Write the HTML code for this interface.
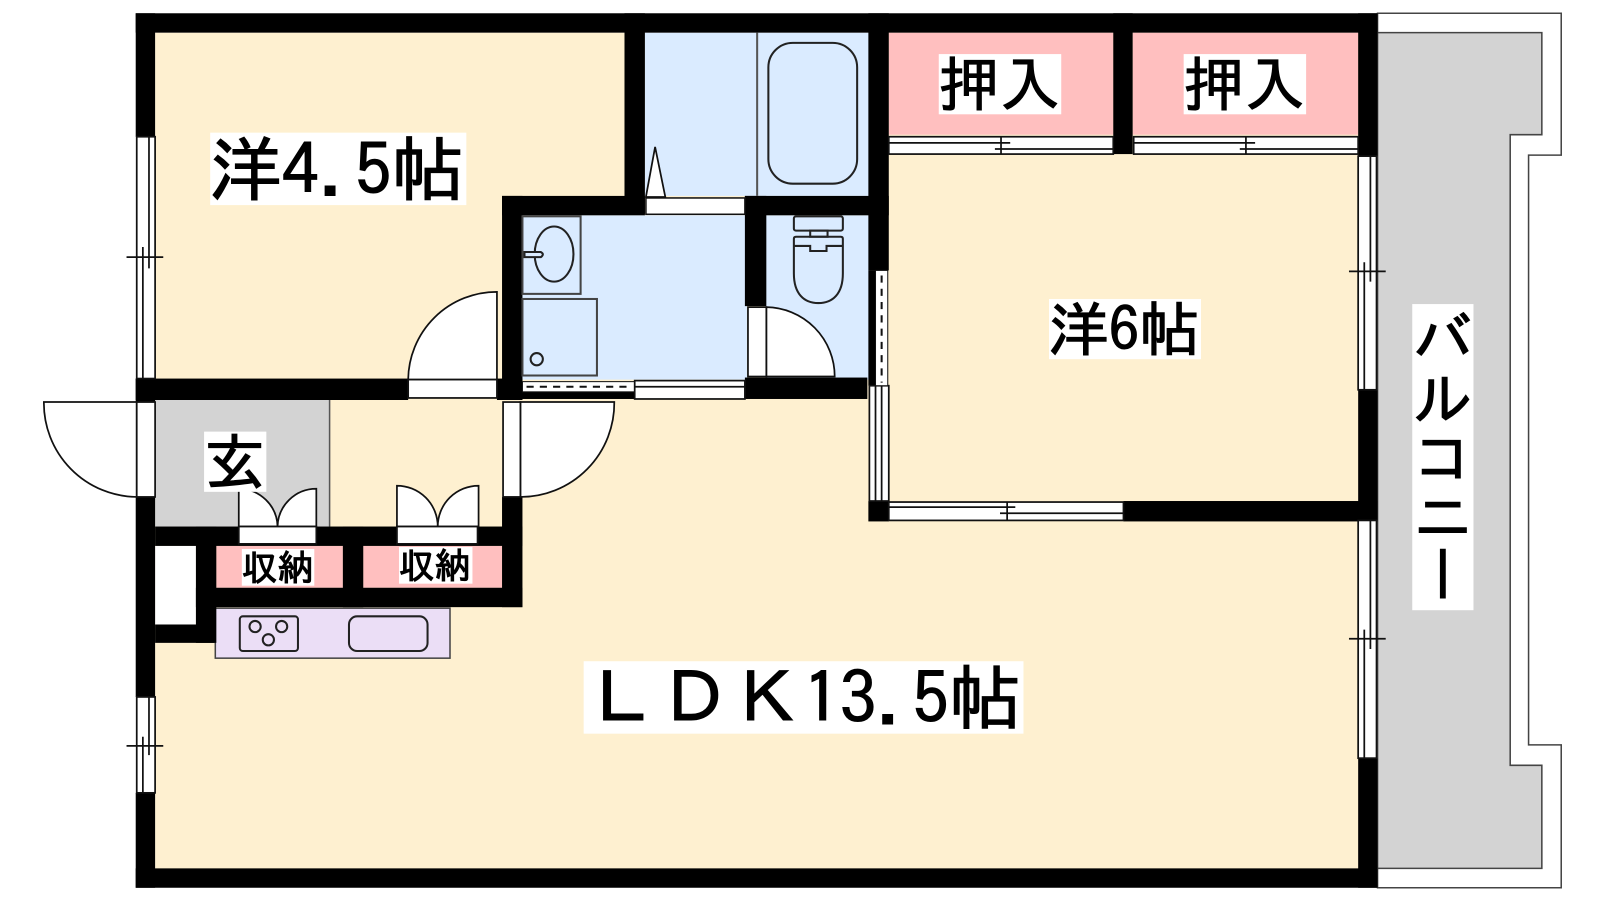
<!DOCTYPE html>
<html lang="ja">
<head>
<meta charset="utf-8">
<title>間取り図</title>
<style>
html,body{margin:0;padding:0;background:#fff;width:1600px;height:900px;overflow:hidden}
svg{display:block}
text{font-family:"IPAGothic","Liberation Sans","Noto Sans CJK JP",sans-serif;fill:#000;stroke:#000;stroke-width:1.1px}
</style>
</head>
<body>
<svg width="1600" height="900" viewBox="0 0 1568 882" xmlns="http://www.w3.org/2000/svg">
<rect width="1568" height="882" fill="#fff"/>

<!-- balcony -->
<path d="M1350 13H1530V152H1498V730H1530V870H1350Z" fill="#fff" stroke="#444" stroke-width="1.5"/>
<path d="M1350 32H1511V132H1480V750H1511V851H1350Z" fill="#D3D3D3" stroke="#444" stroke-width="1.5"/>

<!-- floor -->
<rect x="152" y="32" width="1180" height="820" fill="#FEF0D0"/>
<!-- wet rooms -->
<rect x="632" y="32" width="220" height="160" fill="#DAEBFF"/>
<rect x="512" y="211" width="220" height="161" fill="#DAEBFF"/>
<rect x="750" y="211" width="102" height="161" fill="#DAEBFF"/>
<!-- closets -->
<rect x="871" y="32" width="220" height="100" fill="#FFBFBF"/>
<rect x="1110" y="32" width="221" height="100" fill="#FFBFBF"/>
<rect x="212" y="535" width="124" height="41" fill="#FFBFBF"/>
<rect x="356" y="535" width="136" height="41" fill="#FFBFBF"/>
<!-- entry -->
<rect x="152" y="392" width="171" height="124" fill="#D3D3D3"/>
<line x1="323" y1="392" x2="323" y2="516" stroke="#555" stroke-width="1.5"/>
<rect x="152" y="535" width="40" height="77" fill="#fff"/>
<!-- kitchen -->
<rect x="211" y="596" width="230" height="49" fill="#EBDEF6" stroke="#444" stroke-width="1.5"/>

<!-- walls -->
<g fill="#000">
<rect x="133" y="13" width="1217" height="19"/>
<rect x="133" y="851" width="1217" height="19"/>
<rect x="133" y="13" width="19" height="121"/>
<rect x="133" y="371" width="19" height="24"/>
<rect x="133" y="487" width="19" height="196"/>
<rect x="133" y="777" width="19" height="93"/>
<rect x="1331" y="13" width="19" height="140"/>
<rect x="1331" y="382" width="19" height="128"/>
<rect x="1331" y="743" width="19" height="127"/>
<rect x="612" y="13" width="20" height="197"/>
<rect x="492" y="192" width="140" height="19"/>
<rect x="730" y="192" width="141" height="19"/>
<rect x="851" y="13" width="20" height="252"/>
<rect x="492" y="192" width="20" height="200"/>
<rect x="730" y="192" width="21" height="108"/>
<rect x="133" y="371" width="267" height="21"/>
<rect x="487" y="371" width="25" height="21"/>
<rect x="730" y="370" width="120" height="21"/>
<rect x="851" y="265" width="7" height="113"/>
<rect x="851" y="491" width="20" height="20"/>
<rect x="1101" y="491" width="249" height="20"/>
<rect x="1091" y="13" width="19" height="138"/>
<rect x="152" y="516" width="360" height="19"/>
<rect x="492" y="487" width="20" height="108"/>
<rect x="192" y="576" width="320" height="19"/>
<rect x="192" y="516" width="20" height="114"/>
<rect x="336" y="516" width="20" height="79"/>
<rect x="152" y="612" width="58" height="18"/>
<rect x="512" y="384" width="110" height="7"/>
</g>

<!-- windows / fittings -->
<g fill="#fff" stroke="#111" stroke-width="1.7">
<!-- left upper window -->
<rect x="134" y="134" width="18" height="237"/>
<line x1="140" y1="242" x2="140" y2="371"/>
<line x1="146" y1="134" x2="146" y2="263"/>
<line x1="124" y1="252" x2="160" y2="252"/>
<!-- left lower window -->
<rect x="134" y="683" width="18" height="94"/>
<line x1="140" y1="722" x2="140" y2="777"/>
<line x1="146" y1="683" x2="146" y2="740"/>
<line x1="124" y1="731" x2="160" y2="731"/>
<!-- right upper window -->
<rect x="1331" y="153" width="18" height="229"/>
<line x1="1337" y1="257" x2="1337" y2="382"/>
<line x1="1343" y1="153" x2="1343" y2="276"/>
<line x1="1322" y1="266" x2="1358" y2="266"/>
<!-- right lower window -->
<rect x="1331" y="510" width="18" height="233"/>
<line x1="1337" y1="617" x2="1337" y2="743"/>
<line x1="1343" y1="510" x2="1343" y2="636"/>
<line x1="1322" y1="626" x2="1358" y2="626"/>
<!-- closet sliders -->
<rect x="871" y="134" width="220" height="17"/>
<line x1="871" y1="140" x2="990" y2="140"/>
<line x1="975" y1="146" x2="1091" y2="146"/>
<line x1="981" y1="134" x2="981" y2="151"/>
<rect x="1111" y="134" width="220" height="17"/>
<line x1="1111" y1="140" x2="1230" y2="140"/>
<line x1="1215" y1="146" x2="1331" y2="146"/>
<line x1="1221" y1="134" x2="1221" y2="151"/>
<!-- bedroom bottom slider -->
<rect x="871" y="492" width="230" height="18"/>
<line x1="871" y1="497" x2="995" y2="497"/>
<line x1="980" y1="503" x2="1101" y2="503"/>
<line x1="987" y1="492" x2="987" y2="510"/>
<!-- vertical slider right of toilet -->
<rect x="852" y="378" width="19" height="113"/>
<line x1="858" y1="378" x2="858" y2="491"/>
<line x1="864" y1="378" x2="864" y2="491"/>
<rect x="858" y="265" width="12" height="113" stroke-width="1"/>
<line x1="864" y1="270" x2="864" y2="375" stroke-dasharray="7 6" stroke-width="2"/>
<!-- wash room slider -->
<rect x="512" y="374" width="110" height="10" stroke-width="1"/>
<line x1="516" y1="379" x2="620" y2="379" stroke-dasharray="7 6" stroke-width="2"/>
<rect x="622" y="373" width="108" height="18"/>
<line x1="622" y1="379" x2="730" y2="379"/>
<!-- bath door -->
<rect x="633" y="194" width="97" height="16" stroke-width="1.5"/>
<path d="M633 193L642 144L652 193Z"/>
<!-- bedroom door -->
<path d="M400 372A87 87 0 0 1 487 286V372Z"/>
<rect x="400" y="372" width="87" height="18"/>
<!-- entry door -->
<path d="M134 394H43A92 92 0 0 0 134 487Z"/>
<rect x="134" y="394" width="18" height="93"/>
<!-- ldk door -->
<path d="M510 394H602A92 92 0 0 1 510 487Z"/>
<rect x="493" y="394" width="17" height="93"/>
<!-- toilet door -->
<path d="M751 301A68 68 0 0 1 818 369H751Z"/>
<rect x="733" y="301" width="18" height="68"/>
<!-- closet doors -->
<path d="M234 516V479A38 38 0 0 1 272 516Z"/>
<path d="M310 516V479A38 38 0 0 0 272 516Z"/>
<rect x="234" y="516" width="76" height="17"/>
<path d="M389 516V476A40 40 0 0 1 429 516Z"/>
<path d="M469 516V476A40 40 0 0 0 429 516Z"/>
<rect x="389" y="516" width="79" height="17"/>
</g>

<!-- fixtures -->
<g fill="none" stroke="#222" stroke-width="2">
<line x1="742" y1="32" x2="742" y2="192" stroke="#555"/>
<rect x="753" y="42" width="87" height="138" rx="24"/>
<rect x="512" y="212" width="57" height="76" stroke="#444"/>
<ellipse cx="543" cy="249" rx="19" ry="27"/>
<path d="M514 247H530Q534 249 530 252H514Z" fill="#DAEBFF"/>
<rect x="512" y="293" width="73" height="75" stroke="#444"/>
<circle cx="526" cy="352" r="6"/>
<rect x="778" y="212" width="48" height="14" rx="2"/>
<rect x="794" y="226" width="17" height="6"/>
<path d="M778 241V234Q778 232 780 232H824Q826 232 826 234V241M778 241V268C778 288 788 297 802 297C816 297 826 288 826 268V241M778 241H794V246H810V241H826"/>
<rect x="235" y="604" width="57" height="34" rx="3"/>
<circle cx="250" cy="614" r="5.5"/>
<circle cx="276" cy="614" r="5.5"/>
<circle cx="263" cy="627" r="5.5"/>
<rect x="342" y="604" width="77" height="34" rx="8"/>
</g>

<!-- labels -->
<g fill="#fff">
<rect x="206" y="130" width="251" height="71"/>
<rect x="1028" y="293" width="149" height="59"/>
<rect x="920" y="53" width="120" height="59"/>
<rect x="1160" y="53" width="120" height="59"/>
<rect x="200" y="423" width="61" height="59"/>
<rect x="237" y="538" width="71" height="36"/>
<rect x="391" y="536" width="72" height="36"/>
<rect x="1384" y="298" width="60" height="300"/>
<rect x="572" y="648" width="431" height="71"/>
</g>
<g>
<text x="205" y="191" font-size="69" textLength="250" lengthAdjust="spacingAndGlyphs">洋4.5帖</text>
<text x="1027" y="344" font-size="58" textLength="149" lengthAdjust="spacingAndGlyphs">洋6帖</text>
<text x="920" y="104" font-size="58" textLength="119" lengthAdjust="spacingAndGlyphs">押入</text>
<text x="1160" y="104" font-size="58" textLength="119" lengthAdjust="spacingAndGlyphs">押入</text>
<text x="200" y="475" font-size="60">玄</text>
<text x="237" y="569" font-size="35">収納</text>
<text x="391" y="567" font-size="35">収納</text>
<text x="1414" y="302" font-size="58" style="writing-mode:vertical-rl;text-orientation:upright">バルコニー</text>
<text x="574" y="709" font-size="69" textLength="427" lengthAdjust="spacingAndGlyphs">ＬＤＫ13.5帖</text>
</g>
</svg>
</body>
</html>
